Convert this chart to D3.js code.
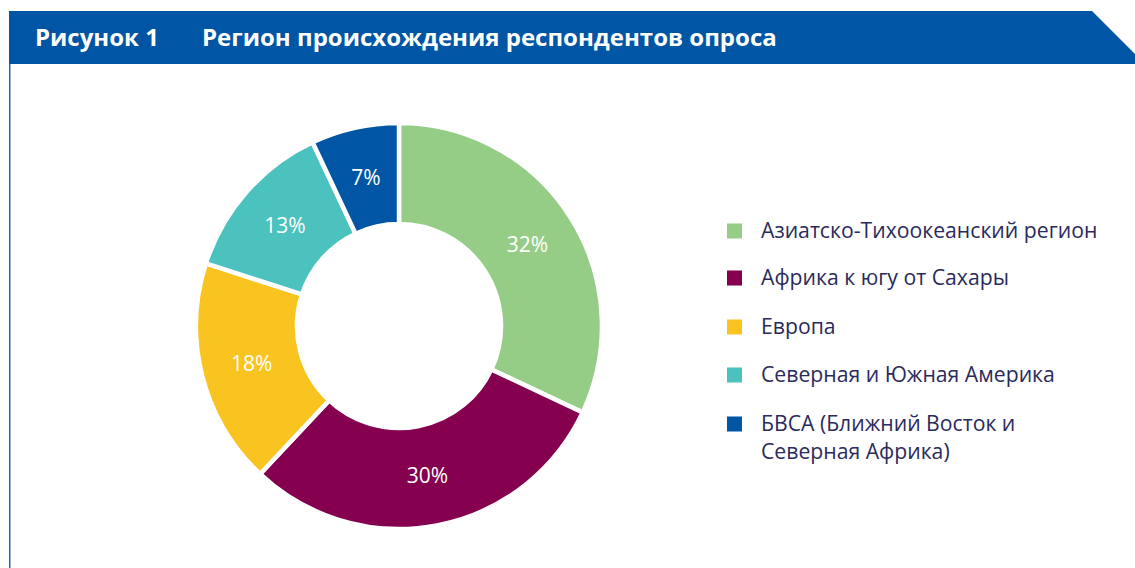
<!DOCTYPE html>
<html><head><meta charset="utf-8">
<script src="https://cdn.jsdelivr.net/npm/d3@7"></script>
<style>
html,body{margin:0;padding:0;background:#fff;}
svg{display:block;font-family:"Open Sans","Noto Sans",sans-serif;}
</style></head>
<body>
<svg id="chart" width="1135" height="568"></svg>
<script>
const categories = ["Азиатско-Тихоокеанский регион","Африка к югу от Сахары","Европа","Северная и Южная Америка","БВСА (Ближний Восток и Северная Африка)"];
const legendLines = [["Азиатско-Тихоокеанский регион"],["Африка к югу от Сахары"],["Европа"],["Северная и Южная Америка"],["БВСА (Ближний Восток и","Северная Африка)"]];
const values = [32,30,18,13,7];
const colors = ["#96CD86","#85004F","#F9C320","#4BC2BE","#0055A5"];
const figureLabel = "Рисунок 1";
const titleText = "Регион происхождения респондентов опроса";

const svg = d3.select("#chart");

// header
svg.append("path")
  .attr("d","M9,11 L1092,11 L1145,64 L9,64 Z")
  .attr("fill","#0055A4");
svg.append("rect").attr("x",9).attr("y",64).attr("width",1.5).attr("height",504).attr("fill","#2D64B0");
svg.append("text").attr("x",35).attr("y",46).attr("fill","#fff").attr("font-weight",700).attr("font-size",24).text(figureLabel);
svg.append("text").attr("x",202).attr("y",46).attr("fill","#fff").attr("font-weight",700).attr("font-size",24).text(titleText);

// donut
const cx=399, cy=326, rOut=203, rIn=102;
const pie = d3.pie().sort(null).value(d=>d);
const arcs = pie(values);
const arc = d3.arc().innerRadius(rIn).outerRadius(rOut);
const labelArc = d3.arc().innerRadius(152).outerRadius(152);
const color = d3.scaleOrdinal().domain(d3.range(values.length)).range(colors);
const g = svg.append("g").attr("transform",`translate(${cx},${cy})`);
g.selectAll("path.slice").data(arcs).join("path")
  .attr("class","slice")
  .attr("d",arc)
  .attr("fill",(d,i)=>color(i))
  .attr("stroke","#fff").attr("stroke-width",4.5).attr("stroke-linejoin","miter");
g.selectAll("text.lbl").data(arcs).join("text")
  .attr("class","lbl")
  .attr("transform",d=>`translate(${labelArc.centroid(d)})`)
  .attr("text-anchor","middle").attr("dy","0.35em")
  .attr("fill","#fff").attr("font-size",21)
  .text(d=>d.data+"%");

// legend
const rowsY = [231,278,327,375,424];
const lg = svg.append("g");
legendLines.forEach((lines,i)=>{
  lg.append("rect").attr("x",727).attr("y",rowsY[i]-7.5).attr("width",15).attr("height",15).attr("fill",color(i));
  const t = lg.append("text").attr("x",761).attr("y",rowsY[i]).attr("fill","#2A2A5C").attr("font-size",21.2);
  lines.forEach((ln,j)=>{
    t.append("tspan").attr("x",761).attr("dy", j===0?"0.35em":"28").text(ln);
  });
});
</script>
</body></html>
